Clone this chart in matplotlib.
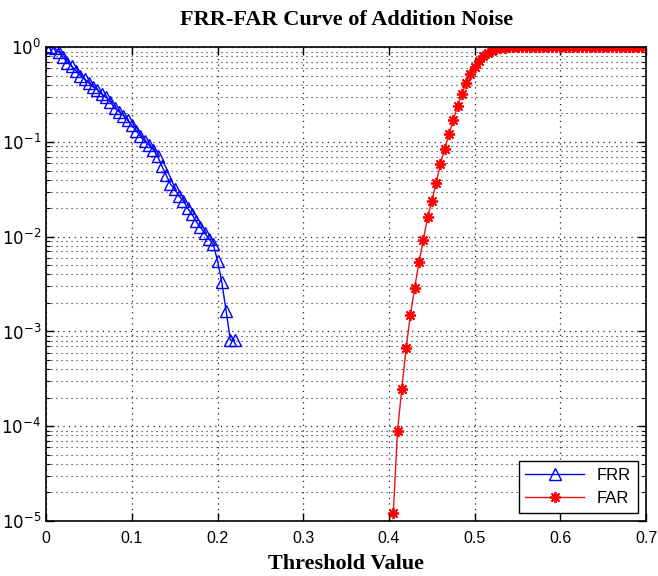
import matplotlib
matplotlib.use("Agg")
import matplotlib.pyplot as plt
import matplotlib.ticker as ticker
import numpy as np

# threshold values and rates
frr_x = [0.000, 0.005, 0.010, 0.015, 0.020, 0.025, 0.030, 0.035, 0.040, 0.045,
         0.050, 0.055, 0.060, 0.065, 0.070, 0.075, 0.080, 0.085, 0.090, 0.095,
         0.100, 0.105, 0.110, 0.115, 0.120, 0.125, 0.130, 0.135, 0.140, 0.145,
         0.150, 0.155, 0.160, 0.165, 0.170, 0.175, 0.180, 0.185, 0.190, 0.195,
         0.200, 0.205, 0.210, 0.215, 0.220]
frr_y = [1.0, 1.0, 0.98, 0.89, 0.78, 0.69, 0.63, 0.56, 0.50, 0.46,
         0.42, 0.38, 0.355, 0.32, 0.295, 0.263, 0.229, 0.209, 0.19, 0.17,
         0.151, 0.132, 0.115, 0.102, 0.093, 0.083, 0.071, 0.056, 0.045, 0.036,
         0.0316, 0.0269, 0.024, 0.020, 0.0174, 0.0145, 0.0126, 0.011, 0.0095, 0.0083,
         0.0056, 0.0033, 0.00166, 0.00081, 0.00081]

far_x = [0.405, 0.410, 0.415, 0.420, 0.425, 0.430, 0.435, 0.440, 0.445, 0.450,
         0.455, 0.460, 0.465, 0.470, 0.475, 0.480, 0.485, 0.490, 0.495, 0.500,
         0.505, 0.510, 0.515, 0.520, 0.525, 0.530, 0.535, 0.540, 0.545, 0.550,
         0.555, 0.560, 0.565, 0.570, 0.575, 0.580, 0.585, 0.590, 0.595, 0.600,
         0.605, 0.610, 0.615, 0.620, 0.625, 0.630, 0.635, 0.640, 0.645, 0.650,
         0.655, 0.660, 0.665, 0.670, 0.675, 0.680, 0.685, 0.690, 0.695, 0.700]
far_y = [1.2e-5, 9e-5, 2.5e-4, 6.7e-4, 1.5e-3, 2.9e-3, 5.4e-3, 9.2e-3, 0.016, 0.024,
         0.037, 0.058, 0.085, 0.12, 0.17, 0.24, 0.32, 0.42, 0.52, 0.62,
         0.72, 0.80, 0.87, 0.92, 0.955, 0.975, 0.988, 0.995, 0.998, 1.0,
         1.0, 1.0, 1.0, 1.0, 1.0, 1.0, 1.0, 1.0, 1.0, 1.0,
         1.0, 1.0, 1.0, 1.0, 1.0, 1.0, 1.0, 1.0, 1.0, 1.0,
         1.0, 1.0, 1.0, 1.0, 1.0, 1.0, 1.0, 1.0, 1.0, 1.0]

x_ticks = [0, 0.1, 0.2, 0.3, 0.4, 0.5, 0.6, 0.7]
x_labels = ["0", "0.1", "0.2", "0.3", "0.4", "0.5", "0.6", "0.7"]
y_ticks = [1e-5, 1e-4, 1e-3, 1e-2, 1e-1, 1e0]
y_labels = ["$10^{-5}$", "$10^{-4}$", "$10^{-3}$", "$10^{-2}$", "$10^{-1}$", "$10^{0}$"]

plt.rcParams['mathtext.fontset'] = 'custom'
plt.rcParams['mathtext.rm'] = 'Liberation Sans'
plt.rcParams['mathtext.default'] = 'regular'

fig = plt.figure(figsize=(6.58, 5.76), dpi=100)
ax = fig.add_axes([0.070, 0.0955, 0.912, 0.8225])

ax.plot(frr_x, frr_y, color='#0000ff', lw=1.0, marker='^', markersize=8,
        markerfacecolor='none', markeredgecolor='#0000ff', markeredgewidth=1.0, label='FRR')
ax.plot(far_x, far_y, color='#ee1111', lw=1.0, marker=(8, 2, 0), markersize=8,
        markeredgecolor='#ff0000', markeredgewidth=1.3, label='FAR')

ax.set_yscale('log')
ax.set_xlim(0, 0.7)
ax.set_ylim(1e-5, 1)

ax.set_xticks(x_ticks)
ax.set_xticklabels(x_labels, fontfamily='Liberation Sans', fontsize=11.5)
ax.set_yticks(y_ticks)
ax.set_yticklabels(y_labels, fontsize=12)
ax.yaxis.set_minor_locator(ticker.LogLocator(base=10, subs=np.arange(2, 10), numticks=20))
ax.yaxis.set_minor_formatter(ticker.NullFormatter())

ax.tick_params(which='both', direction='in', top=True, right=True)
ax.tick_params(which='major', length=6, width=1)
ax.tick_params(which='minor', length=3, width=0.8)
ax.tick_params(axis='x', pad=7)

ax.grid(True, which='major', axis='both', color='#222222', linestyle=(0, (1, 3.5)), linewidth=0.9)
ax.grid(True, which='minor', axis='y', color='#222222', linestyle=(0, (1, 3.5)), linewidth=0.8)

for s in ax.spines.values():
    s.set_linewidth(1.2)

ax.set_title('FRR-FAR Curve of Addition Noise', fontfamily='Liberation Serif',
             fontweight='bold', fontsize=16, pad=16)
ax.set_xlabel('Threshold Value', fontfamily='Liberation Serif', fontweight='bold',
              fontsize=16, labelpad=6)

leg = ax.legend(loc='lower right', prop={'family': 'Liberation Sans', 'size': 12},
                fancybox=False, framealpha=1, edgecolor='black', borderaxespad=0.5,
                handlelength=3.5)
leg.get_frame().set_linewidth(1.0)

fig.savefig('out.png', dpi=100)
